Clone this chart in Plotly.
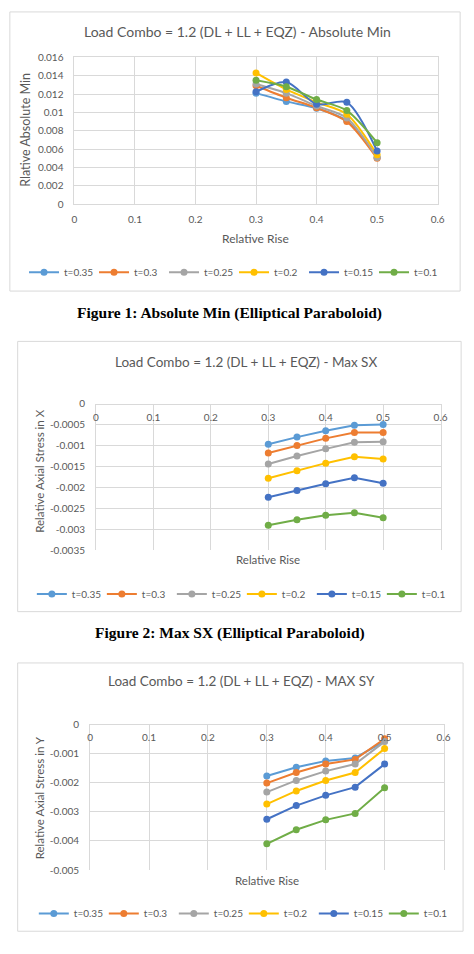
import plotly.graph_objects as go

W, H = 474, 954

rise = [0.3, 0.35, 0.4, 0.45, 0.5]
series_names = ["t=0.35", "t=0.3", "t=0.25", "t=0.2", "t=0.15", "t=0.1"]
series_colors = ["#5B9BD5", "#ED7D31", "#A5A5A5", "#FFC000", "#4472C4", "#70AD47"]

# Chart 1: Relative Absolute Min
absmin_t035 = [0.0121, 0.0112, 0.01045, 0.0091, 0.0051]
absmin_t030 = [0.0129, 0.0116, 0.0105, 0.0090, 0.0050]
absmin_t025 = [0.0131, 0.0121, 0.0107, 0.0094, 0.0051]
absmin_t020 = [0.0143, 0.0125, 0.0111, 0.0098, 0.0054]
absmin_t015 = [0.01225, 0.0133, 0.0109, 0.0111, 0.0058]
absmin_t010 = [0.0135, 0.0128, 0.0114, 0.0102, 0.0067]

# Chart 2: Relative Axial Stress in X
sx_t035 = [-0.00097, -0.00080, -0.00065, -0.00052, -0.00050]
sx_t030 = [-0.00118, -0.00100, -0.00083, -0.00069, -0.00069]
sx_t025 = [-0.00144, -0.00125, -0.00108, -0.00092, -0.00091]
sx_t020 = [-0.00178, -0.00160, -0.00142, -0.00127, -0.00132]
sx_t015 = [-0.00223, -0.00207, -0.00191, -0.00177, -0.00190]
sx_t010 = [-0.00290, -0.00277, -0.00266, -0.00260, -0.00272]

# Chart 3: Relative Axial Stress in Y
sy_t035 = [-0.00178, -0.00148, -0.00126, -0.00116, -0.00058]
sy_t030 = [-0.00202, -0.00166, -0.00137, -0.00121, -0.00050]
sy_t025 = [-0.00233, -0.00193, -0.00161, -0.00137, -0.00060]
sy_t020 = [-0.00274, -0.00229, -0.00193, -0.00166, -0.00084]
sy_t015 = [-0.00326, -0.00279, -0.00244, -0.00216, -0.00137]
sy_t010 = [-0.00410, -0.00362, -0.00328, -0.00306, -0.00218]

x_ticks = [0, 0.1, 0.2, 0.3, 0.4, 0.5, 0.6]
absmin_ticks = [0, 0.002, 0.004, 0.006, 0.008, 0.01, 0.012, 0.014, 0.016]
sx_ticks = [0, -0.0005, -0.001, -0.0015, -0.002, -0.0025, -0.003, -0.0035]
sx_ticklabels = ["0", "-0.0005", "-0.001", "-0.0015", "-0.002", "-0.0025", "-0.003", "-0.0035"]
sy_ticks = [0, -0.001, -0.002, -0.003, -0.004, -0.005]
sy_ticklabels = ["0", "-0.001", "-0.002", "-0.003", "-0.004", "-0.005"]

titles = ["Load Combo = 1.2 (DL + LL + EQZ) - Absolute Min",
          "Load Combo = 1.2 (DL + LL + EQZ) - Max SX",
          "Load Combo = 1.2 (DL + LL + EQZ) - MAX SY"]
y_titles = ["Rlative Absolute Min", "Relative Axial Stress in X", "Relative Axial Stress in Y"]
x_title = "Relative Rise"
captions = ["Figure 1: Absolute Min (Elliptical Paraboloid)",
            "Figure 2: Max SX (Elliptical Paraboloid)"]

FONT = "Lato, 'Open Sans', sans-serif"
GRID = "#D9D9D9"
TXT = "#595959"


def px(x):
    return x / W


def py(y):
    return 1 - y / H


fig = go.Figure()

charts = [
    ([absmin_t035, absmin_t030, absmin_t025, absmin_t020, absmin_t015, absmin_t010], "x", "y", "legend", "spline"),
    ([sx_t035, sx_t030, sx_t025, sx_t020, sx_t015, sx_t010], "x2", "y2", "legend2", "linear"),
    ([sy_t035, sy_t030, sy_t025, sy_t020, sy_t015, sy_t010], "x3", "y3", "legend3", "linear"),
]

for data, xa, ya, lg, shape in charts:
    for name, col, vals in zip(series_names, series_colors, data):
        fig.add_trace(go.Scatter(
            x=rise, y=vals, name=name, xaxis=xa, yaxis=ya, legend=lg,
            mode="lines+markers",
            line=dict(color=col, width=2, shape=shape, smoothing=0.8),
            marker=dict(color=col, size=7),
        ))

common_x = dict(range=[0, 0.6], tickvals=x_ticks, showgrid=True, gridcolor=GRID,
                showline=True, mirror=True, linecolor=GRID, zeroline=False, ticks="",
                tickfont=dict(family=FONT, size=10, color=TXT), fixedrange=True)
common_y = dict(showgrid=True, gridcolor=GRID, showline=True, mirror=True, linecolor=GRID,
                zeroline=False, ticks="",
                tickfont=dict(family=FONT, size=10, color=TXT), ticklabelstandoff=8,
                fixedrange=True)

fig.update_layout(
    width=W, height=H, margin=dict(l=0, r=0, t=0, b=0),
    paper_bgcolor="white", plot_bgcolor="white",
    font=dict(family=FONT, color=TXT),
    xaxis=dict(domain=[px(73), px(444)], anchor="y", ticklabelstandoff=6, **common_x),
    yaxis=dict(domain=[py(200), py(51)], anchor="x", range=[0, 0.016], tickvals=absmin_ticks, **common_y),
    xaxis2=dict(domain=[px(95), px(447)], anchor="free", position=py(402), side="bottom",
                ticklabelstandoff=4, **common_x),
    yaxis2=dict(domain=[py(551), py(402)], anchor="x2", range=[-0.0035, 0], tickvals=sx_ticks,
                ticktext=sx_ticklabels, **common_y),
    xaxis3=dict(domain=[px(89), px(450)], anchor="free", position=py(727), side="bottom",
                ticklabelstandoff=4, **common_x),
    yaxis3=dict(domain=[py(875), py(727)], anchor="x3", range=[-0.005, 0], tickvals=sy_ticks,
                ticktext=sy_ticklabels, **common_y),
)

leg_common = dict(orientation="h", xanchor="center", yanchor="middle", itemwidth=30,
                  entrywidth=25, bgcolor="rgba(0,0,0,0)", font=dict(family=FONT, size=10, color=TXT),
                  itemclick=False, itemdoubleclick=False)
fig.update_layout(
    legend=dict(x=px(236), y=py(269), **leg_common),
    legend2=dict(x=px(244), y=py(595), **leg_common),
    legend3=dict(x=px(246), y=py(919), **leg_common),
)

# chart borders
boxes = [(7, 5, 467, 288), (15, 339, 468, 613), (15, 665, 470, 937)]
for x0, y0, x1, y1 in boxes:
    fig.add_shape(type="rect", xref="paper", yref="paper",
                  x0=px(x0), x1=px(x1), y0=py(y1), y1=py(y0),
                  line=dict(color=GRID, width=1), fillcolor="rgba(0,0,0,0)", layer="below")

ann = []
title_pos = [(240, 25, 14), (248, 360, 13.5), (244, 683, 13.5)]
for t, (x, y, s) in zip(titles, title_pos):
    ann.append(dict(text=t, x=px(x), y=py(y), xref="paper", yref="paper", showarrow=False,
                    xanchor="center", yanchor="middle", font=dict(family=FONT, size=s, color=TXT)))
ytitle_pos = [(23, 125, 12.5), (37, 470, 11.5), (37, 802, 11.5)]
for t, (x, y, s) in zip(y_titles, ytitle_pos):
    ann.append(dict(text=t, x=px(x), y=py(y), xref="paper", yref="paper", showarrow=False,
                    textangle=-90, xanchor="center", yanchor="middle",
                    font=dict(family=FONT, size=s, color=TXT)))
xtitle_pos = [(258, 235, 12), (271, 560, 11.5), (270, 886, 11.5)]
for (x, y, s) in xtitle_pos:
    ann.append(dict(text=x_title, x=px(x), y=py(y), xref="paper", yref="paper", showarrow=False,
                    xanchor="center", yanchor="middle", font=dict(family=FONT, size=s, color=TXT)))
cap_pos = [(231, 310), (232, 635)]
for t, (x, y) in zip(captions, cap_pos):
    ann.append(dict(text="<b>" + t + "</b>", x=px(x), y=py(y), xref="paper", yref="paper",
                    showarrow=False, xanchor="center", yanchor="middle",
                    font=dict(family="'Liberation Serif', 'DejaVu Serif', serif", size=15.5, color="black")))
fig.update_layout(annotations=ann)

fig.write_html("out.html", config={"displayModeBar": False})
